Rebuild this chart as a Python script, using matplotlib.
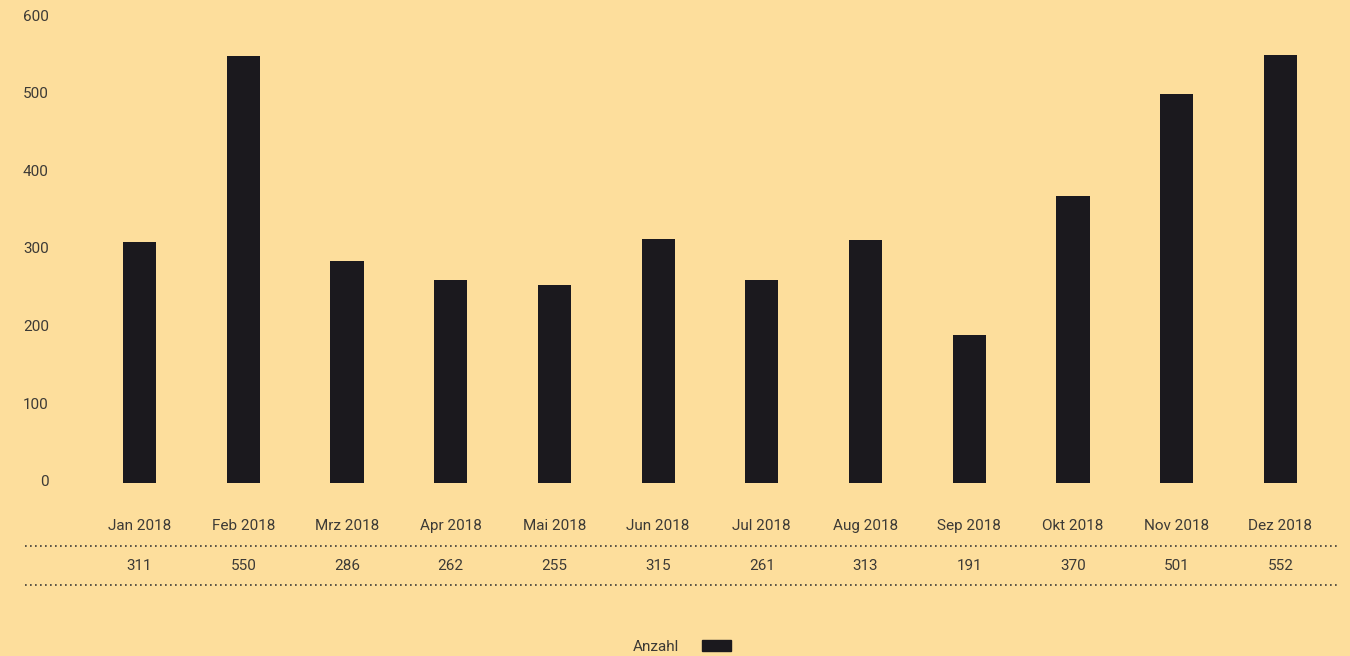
import matplotlib
matplotlib.use("Agg")
import matplotlib.pyplot as plt
import matplotlib.transforms as mtransforms
from matplotlib.lines import Line2D
from matplotlib.patches import Patch

months = ["Jan 2018", "Feb 2018", "Mrz 2018", "Apr 2018", "Mai 2018", "Jun 2018",
          "Jul 2018", "Aug 2018", "Sep 2018", "Okt 2018", "Nov 2018", "Dez 2018"]
anzahl = [311, 550, 286, 262, 255, 315, 261, 313, 191, 370, 501, 552]
yticks = [0, 100, 200, 300, 400, 500, 600]

bg = "#FDDE9C"
bar_color = "#1B191E"
text_color = "#3C3A36"

plt.rcParams["font.family"] = ["Roboto", "DejaVu Sans"]

W, H = 1350, 656
fig = plt.figure(figsize=(W / 100, H / 100), dpi=100, facecolor=bg)
ax = fig.add_axes([60 / W, 173 / H, 1280 / W, 473 / H], facecolor=bg)

x = list(range(len(months)))
ax.bar(x, anzahl, width=0.32, color=bar_color)

ax.set_xlim(-0.767, 11 + 0.575)
ax.set_ylim(0, 609.5)
ax.set_yticks(yticks)
ax.set_yticklabels([str(v) for v in yticks])
ax.set_xticks([])
ax.tick_params(axis="y", length=0, pad=8, labelsize=11, labelcolor=text_color)
# labels sit a little above their gridline in the original
shift = mtransforms.ScaledTranslation(0, 1.6 / 72, fig.dpi_scale_trans)
for lbl in ax.get_yticklabels():
    lbl.set_transform(lbl.get_transform() + shift)
for s in ax.spines.values():
    s.set_visible(False)

# table rows below the chart
trans = mtransforms.blended_transform_factory(ax.transData, fig.transFigure)
for xi, m, v in zip(x, months, anzahl):
    ax.text(xi, 1 - 526 / H, m, transform=trans, ha="center", va="center",
            fontsize=11, color=text_color)
    ax.text(xi, 1 - 566 / H, str(v), transform=trans, ha="center", va="center",
            fontsize=11, color=text_color)

for yy in (546, 585):
    fig.add_artist(Line2D([25 / W, 1340 / W], [1 - yy / H, 1 - yy / H],
                          transform=fig.transFigure, color=text_color,
                          linestyle=(0, (1, 2)), linewidth=1.2))

handle = Patch(facecolor=bar_color, edgecolor=bar_color)
fig.legend([handle], ["Anzahl"], loc="center", bbox_to_anchor=(0.505, 1 - 647 / H),
           frameon=False, markerfirst=False, handlelength=1.9, handleheight=0.75,
           handletextpad=1.5, fontsize=11, labelcolor=text_color)

fig.savefig("out.png", dpi=100, facecolor=bg)
